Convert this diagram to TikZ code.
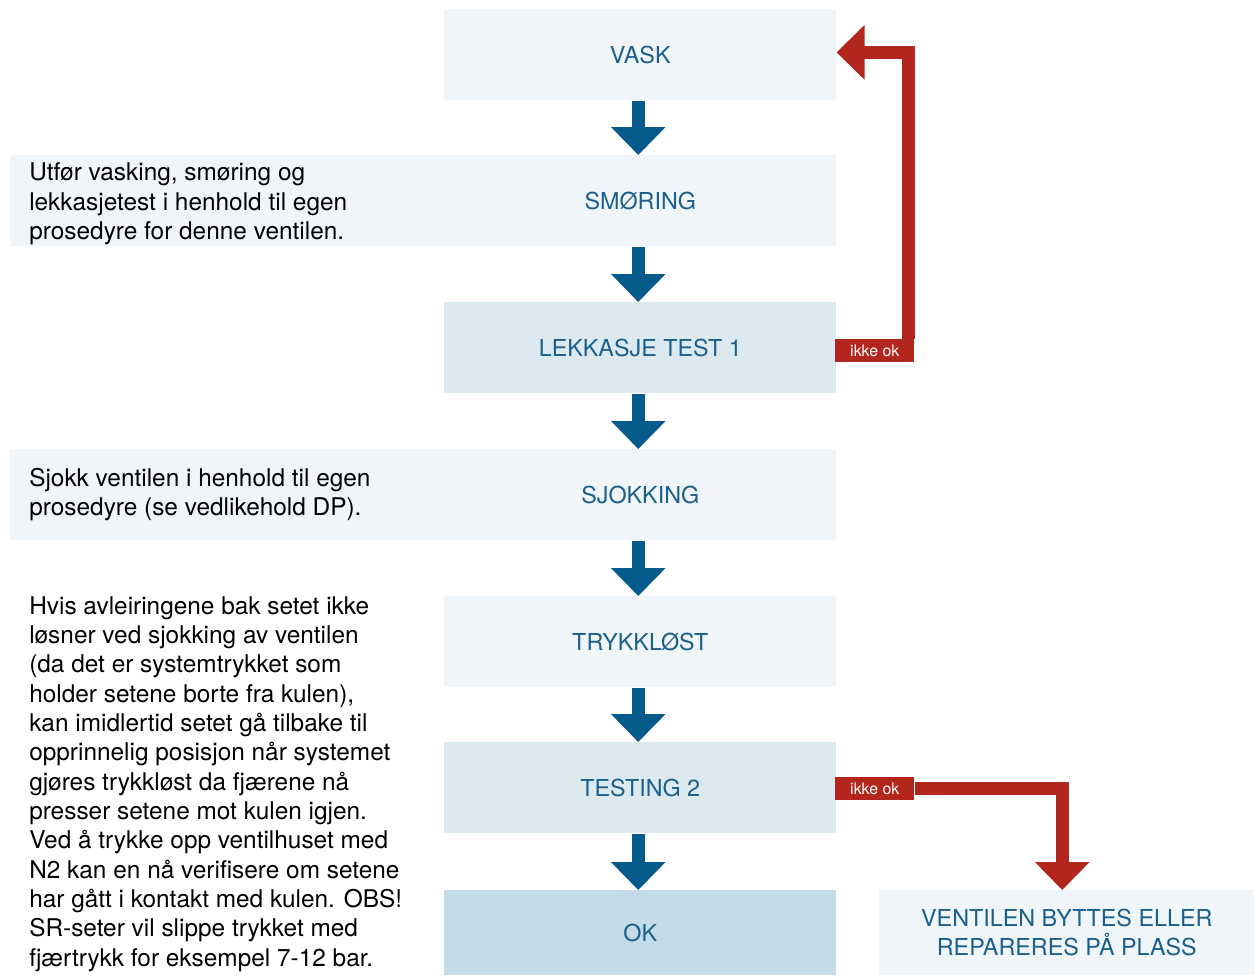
\documentclass[tikz,border=0pt]{standalone}
\usepackage{fontspec}
\setmainfont{TeX Gyre Heros}
\usetikzlibrary{arrows.meta}
\definecolor{boxA}{HTML}{EFF5F8}
\definecolor{boxB}{HTML}{DCEAF0}
\definecolor{boxC}{HTML}{C3DCE7}
\definecolor{txtblue}{HTML}{1B5F8D}
\definecolor{arrblue}{HTML}{035A8B}
\definecolor{arrred}{HTML}{B3261E}
\begin{document}
\begin{tikzpicture}[x=0.75pt,y=-0.75pt,
  box/.style={draw=none, minimum width=294pt, minimum height=68.25pt, inner sep=0pt,
    anchor=north west, align=center, text=txtblue, font=\fontsize{17.5}{21.75}\selectfont},
  sidebox/.style={draw=none, fill=boxA, minimum width=325.5pt, minimum height=68.25pt, inner sep=0pt, anchor=north west},
  sidetext/.style={anchor=west, align=left, inner sep=0pt, text=black, font=\fontsize{18.3}{22}\selectfont},
  redlabel/.style={fill=arrred, text=white, minimum width=59.25pt, minimum height=17.25pt, inner sep=0pt,
    anchor=north west, font=\fontsize{11.9}{13}\selectfont},
  bluearr/.style={draw=arrblue, line width=9.75pt, -{Triangle[width=39.75pt,length=21pt]}},
  redarr/.style={draw=arrred, line width=9.75pt, line join=miter, -{Triangle[width=39.75pt,length=21pt]}}]
\path[use as bounding box, fill=white] (0,0) rectangle (1257,975);

% main column boxes
\node[box, fill=boxA] (vask) at (444,9) {VASK};
\node[sidebox] (smorside) at (10,155) {};
\node[box, fill=boxA] (smor) at (444,155) {SMØRING};
\node[box, fill=boxB] (lekk) at (444,302) {LEKKASJE TEST 1};
\node[sidebox] (sjokside) at (10,449) {};
\node[box, fill=boxA] (sjok) at (444,449) {SJOKKING};
\node[box, fill=boxA] (tryk) at (444,596) {TRYKKLØST};
\node[box, fill=boxB] (test) at (444,742) {TESTING 2};
\node[box, fill=boxC, minimum height=63.75pt] (ok) at (444,890) {OK};
\node[box, fill=boxA, minimum width=281.25pt, minimum height=63.75pt] (vent) at (879,890)
  {VENTILEN BYTTES ELLER\\REPARERES PÅ PLASS};

% side texts
\node[sidetext] (t1) at (29,204) {Utfør vasking, smøring og\\lekkasjetest i henhold til egen\\prosedyre for denne ventilen.};
\node[sidetext] (t2) at (29,494.5) {Sjokk ventilen i henhold til egen\\prosedyre (se vedlikehold DP).};
\node[sidetext] (t3) at (29,784) {Hvis avleiringene bak setet ikke\\løsner ved sjokking av ventilen\\(da det er systemtrykket som\\holder setene borte fra kulen),\\kan imidlertid setet gå tilbake til\\opprinnelig posisjon når systemet\\gjøres trykkløst da fjærene nå\\presser setene mot kulen igjen.\\Ved å trykke opp ventilhuset med\\N2 kan en nå verifisere om setene\\har gått i kontakt med kulen. OBS!\\SR-seter vil slippe trykket med\\fjærtrykk for eksempel 7-12 bar.};

% blue arrows
\draw[bluearr] ([xshift=-1.5pt]vask.south) -- ([xshift=-1.5pt]smor.north);
\draw[bluearr] ([xshift=-1.5pt]smor.south) -- ([xshift=-1.5pt]lekk.north);
\draw[bluearr] ([xshift=-1.5pt]lekk.south) -- ([xshift=-1.5pt]sjok.north);
\draw[bluearr] ([xshift=-1.5pt]sjok.south) -- ([xshift=-1.5pt]tryk.north);
\draw[bluearr] ([xshift=-1.5pt]tryk.south) -- ([xshift=-1.5pt]test.north);
\draw[bluearr] ([xshift=-1.5pt]test.south) -- ([xshift=-1.5pt]ok.north);

% red labels and arrows
\node[redlabel] (ikke1) at (835,339) {ikke ok};
\node[redlabel] (ikke2) at (835,777) {ikke ok};
\draw[redarr] ([xshift=-4.875pt]ikke1.north east) |- ([yshift=1.8pt]vask.east);
\draw[redarr] (ikke2.east) -| ([xshift=-3.4pt]vent.north);
\end{tikzpicture}
\end{document}
